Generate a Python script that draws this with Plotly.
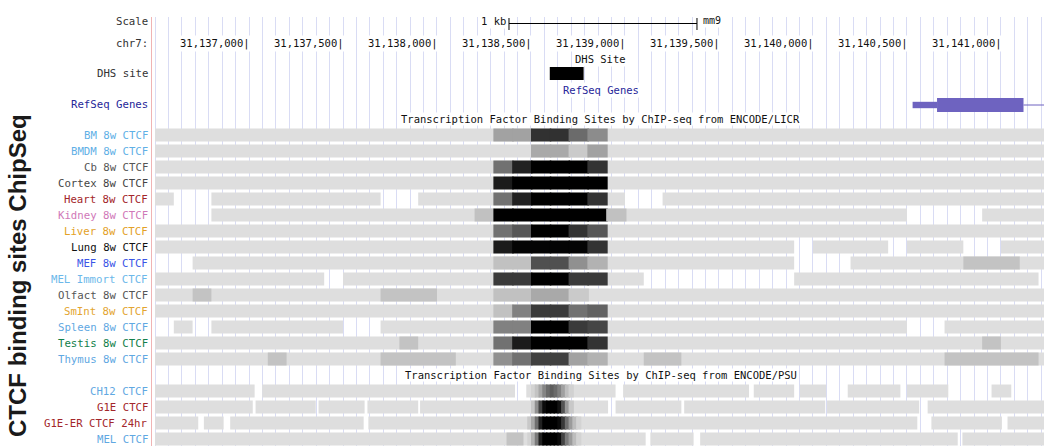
import plotly.graph_objects as go

# ---------------- data ----------------
VIEW_START, VIEW_END = 31136484, 31141229
SEG_END = 31141229

tick_pos = [31137000, 31137500, 31138000, 31138500, 31139000,
            31139500, 31140000, 31140500, 31141000]
tick_labels = ["31,137,000|", "31,137,500|", "31,138,000|", "31,138,500|",
               "31,139,000|", "31,139,500|", "31,140,000|", "31,140,500|",
               "31,141,000|"]

scale_bar = [31138383, 31139383]          # 1 kb
dhs_site = [31138600, 31138780]
gene_utr = [31140530, 31140660]
gene_cds = [31140660, 31141120]

licr_tracks = ["BM 8w CTCF", "BMDM 8w CTCF", "Cb 8w CTCF", "Cortex 8w CTCF",
               "Heart 8w CTCF", "Kidney 8w CTCF", "Liver 8w CTCF", "Lung 8w CTCF",
               "MEF 8w CTCF", "MEL Immort CTCF", "Olfact 8w CTCF", "SmInt 8w CTCF",
               "Spleen 8w CTCF", "Testis 8w CTCF", "Thymus 8w CTCF"]
licr_colors = ["#5fb0e6", "#5fb0e6", "#555555", "#444444", "#a3262a", "#d078b8",
               "#e3a126", "#111111", "#3a55e6", "#6cb8ea", "#555555", "#e3a530",
               "#5fa8e2", "#12804a", "#5fa8e2"]

licr_bg = [
    [[31136500, SEG_END]],
    [[31136500, SEG_END]],
    [[31136500, SEG_END]],
    [[31136500, SEG_END]],
    [[31136500, 31136600], [31136800, 31137700], [31137900, 31139000], [31139200, SEG_END]],
    [[31136800, 31140500], [31140900, SEG_END]],
    [[31136500, SEG_END]],
    [[31136500, 31139900], [31140000, 31140400], [31140500, 31140800], [31141000, SEG_END]],
    [[31136700, 31139900], [31140200, SEG_END]],
    [[31136500, 31137400], [31137500, 31139100], [31139900, 31141200]],
    [[31136500, SEG_END]],
    [[31136500, SEG_END]],
    [[31136600, 31136700], [31136800, 31137500], [31137700, 31140500], [31140700, SEG_END]],
    [[31136500, SEG_END]],
    [[31136500, SEG_END]],
]
licr_dark = [
    [], [], [], [], [], [], [], [],
    [[31140800, 31141100]],
    [],
    [[31136700, 31136800], [31137700, 31138000]],
    [],
    [],
    [[31137800, 31137900], [31140900, 31141000]],
    [[31137100, 31137200], [31137700, 31138100], [31139100, 31139300], [31140700, 31141200]],
]

licr_bins = [31138200, 31138300, 31138400, 31138500, 31138600, 31138700, 31138800, 31138900]
licr_signal = [
    [None, 27, 27, 78, 78, 52, 37, None],
    [None, None, None, 24, 24, 9, 27, None],
    [None, 49, 85, 100, 100, 100, 77, None],
    [None, 88, 100, 100, 100, 100, 100, None],
    [None, 49, 85, 100, 100, 100, 77, None],
    [13, 100, 100, 100, 100, 100, 100, 13],
    [None, 49, 61, 100, 100, 77, 61, None],
    [None, 88, 98, 98, 98, 98, 77, None],
    [None, 13, 13, 64, 64, 35, 20, None],
    [None, 74, 74, 100, 100, 74, 74, None],
    [None, 13, 13, 24, 24, 9, None, None],
    [None, 13, 42, 74, 74, 49, 56, None],
    [None, 42, 42, 100, 100, 74, 69, None],
    [None, 49, 88, 100, 100, 100, 77, None],
    [None, 35, 49, 71, 71, 27, 20, None],
]

psu_tracks = ["CH12 CTCF", "G1E CTCF", "G1E-ER CTCF 24hr", "MEL CTCF"]
psu_colors = ["#5fa8e2", "#a3262a", "#a3262a", "#5fa8e2"]
psu_bg = [
    [[31136500, 31137030], [31137070, 31138415], [31138475, 31138950], [31138990, 31139660],
     [31139685, 31139900], [31139930, 31140070], [31140185, 31140465], [31140500, 31140720],
     [31140950, 31141055]],
    [[31136500, 31137020], [31137035, 31137355], [31137370, 31137615], [31137630, 31137900],
     [31137910, 31138910], [31138950, 31139300], [31139315, 31140065], [31140075, 31140565],
     [31140610, SEG_END]],
    [[31136500, 31136730], [31136760, 31136865], [31136900, 31137610], [31137635, 31140555],
     [31140630, 31141005], [31141035, SEG_END]],
    [[31136500, 31139110], [31139135, 31139365], [31139400, 31140770], [31140795, SEG_END]],
]
psu_dark = [[], [], [], [[31138370, 31138460]]]
psu_bins = [31138480, 31138500, 31138520, 31138540, 31138560, 31138580, 31138600,
            31138620, 31138640, 31138660, 31138680, 31138700, 31138720, 31138740]
psu_signal = [
    [0, 5, 12, 25, 40, 52, 58, 52, 42, 28, 14, 6, 0, 0],
    [0, 10, 35, 70, 95, 100, 100, 100, 92, 62, 30, 10, 0, 0],
    [10, 25, 50, 85, 100, 100, 100, 100, 95, 75, 50, 30, 15, 5],
    [5, 20, 45, 85, 100, 100, 100, 100, 95, 70, 45, 30, 15, 5],
]

# ---------------- layout helpers ----------------
W, H = 1044, 446
PLOT_LEFT_PX = 152
TOP_PX = 17
ROW_PX = 16.0
ROW0_PX = 119            # pixel centre of row index 0


def r_of(px):
    return (px - ROW0_PX) / ROW_PX


Y_TOP = r_of(TOP_PX)
Y_BOT = r_of(H)
BAR_H = 0.81
DARK_SIGNAL = 12
GENE_COLOR = "#6e63c0"
MONO = "DejaVu Sans Mono"
OVERLAP = 8              # bp overlap between adjacent bins to hide anti-alias seams

licr_rows = [i + 1 for i in range(len(licr_tracks))]
psu_rows = [17 + j for j in range(len(psu_tracks))]
LICR_TITLE_ROW, PSU_TITLE_ROW = 0, 16

ys, bases, lens, sigs = [], [], [], []


def add(row, s, e, sig):
    ys.append(row)
    bases.append(s)
    lens.append(e - s)
    sigs.append(sig)


# background + dark patches
for row, bg, dk in zip(licr_rows + psu_rows, licr_bg + psu_bg, licr_dark + psu_dark):
    for s, e in bg:
        add(row, s, e, 0)
    for s, e in dk:
        add(row, s, e, DARK_SIGNAL)

ys2, bases2, lens2, sigs2 = [], [], [], []
for row, vals in zip(licr_rows, licr_signal):
    for b, v in zip(licr_bins, vals):
        if v is not None:
            ys2.append(row); bases2.append(b); lens2.append(100 + OVERLAP); sigs2.append(v)
for row, vals in zip(psu_rows, psu_signal):
    for b, v in zip(psu_bins, vals):
        if v:
            ys2.append(row); bases2.append(b); lens2.append(20 + OVERLAP); sigs2.append(v)

grey_scale = [[0, "rgb(222,222,222)"], [1, "rgb(0,0,0)"]]

fig = go.Figure()
fig.add_trace(go.Bar(orientation="h", y=ys, x=lens, base=bases, width=BAR_H,
                     marker=dict(color=sigs, colorscale=grey_scale, cmin=0, cmax=100,
                                 line=dict(width=0)),
                     hoverinfo="skip", showlegend=False))
fig.add_trace(go.Bar(orientation="h", y=ys2, x=lens2, base=bases2, width=BAR_H,
                     marker=dict(color=sigs2, colorscale=grey_scale, cmin=0, cmax=100,
                                 line=dict(width=0)),
                     hoverinfo="skip", showlegend=False))

# DHS site
R_DHS = r_of(73.5)
fig.add_trace(go.Bar(orientation="h", y=[R_DHS], x=[dhs_site[1] - dhs_site[0]],
                     base=[dhs_site[0]], width=0.8, marker=dict(color="black", line=dict(width=0)),
                     hoverinfo="skip", showlegend=False))

# RefSeq gene
R_GENE = r_of(105)
fig.add_trace(go.Scatter(x=[gene_cds[1], VIEW_END], y=[R_GENE, R_GENE], mode="lines",
                         line=dict(color=GENE_COLOR, width=1), hoverinfo="skip", showlegend=False))
fig.add_trace(go.Bar(orientation="h", y=[R_GENE], x=[gene_utr[1] - gene_utr[0]], base=[gene_utr[0]],
                     width=0.4, marker=dict(color=GENE_COLOR, line=dict(width=0)),
                     hoverinfo="skip", showlegend=False))
fig.add_trace(go.Bar(orientation="h", y=[R_GENE], x=[gene_cds[1] - gene_cds[0]], base=[gene_cds[0]],
                     width=0.87, marker=dict(color=GENE_COLOR, line=dict(width=0)),
                     hoverinfo="skip", showlegend=False))

# scale bar
sb0, sb1 = scale_bar
ya, yb, ym = r_of(18), r_of(30), r_of(23.5)
fig.add_trace(go.Scatter(x=[sb0, sb0, None, sb0, sb1, None, sb1, sb1],
                         y=[ya, yb, None, ym, ym, None, ya, yb], mode="lines",
                         line=dict(color="black", width=1), hoverinfo="skip", showlegend=False))

annotations = []
LABEL_X = 150 / W
MID_X = 31138870


def label(text, row, color, size=10.7):
    annotations.append(dict(text=text, xref="paper", x=LABEL_X, yref="y", y=row,
                            xanchor="right", yanchor="middle", showarrow=False,
                            font=dict(family=MONO, size=size, color=color)))


label("Scale", r_of(21), "#333333")
label("chr7:", r_of(43), "#333333")
label("DHS site", r_of(73), "#333333")
label("RefSeq Genes", r_of(104), "#262699")
for t, c, r in zip(licr_tracks, licr_colors, licr_rows):
    label(t, r, c)
for t, c, r in zip(psu_tracks, psu_colors, psu_rows):
    label(t, r, c)

for p, t in zip(tick_pos, tick_labels):
    annotations.append(dict(text=t, x=p, y=r_of(43), xref="x", yref="y", xanchor="right",
                            yanchor="middle", xshift=3, showarrow=False, bgcolor="white",
                            font=dict(family=MONO, size=10.5, color="#111111")))

annotations.append(dict(text="1 kb", x=sb0, y=r_of(21), xref="x", yref="y", xanchor="right",
                        xshift=-1, showarrow=False, bgcolor="white",
                        font=dict(family=MONO, size=10.5, color="#111111")))
annotations.append(dict(text="mm9", x=sb1, y=r_of(20), xref="x", yref="y", xanchor="left",
                        xshift=4, showarrow=False, bgcolor="white",
                        font=dict(family=MONO, size=10, color="#111111")))
annotations.append(dict(text="DHS Site", x=MID_X, y=r_of(59), xref="x", yref="y",
                        showarrow=False, bgcolor="white",
                        font=dict(family=MONO, size=10.5, color="#111111")))
annotations.append(dict(text="RefSeq Genes", x=MID_X, y=r_of(90), xref="x", yref="y",
                        showarrow=False, bgcolor="white",
                        font=dict(family=MONO, size=10.5, color="#262699")))
annotations.append(dict(text="Transcription Factor Binding Sites by ChIP-seq from ENCODE/LICR",
                        x=MID_X, y=LICR_TITLE_ROW, xref="x", yref="y", showarrow=False,
                        bgcolor="white", borderpad=0,
                        font=dict(family=MONO, size=10.5, color="#111111")))
annotations.append(dict(text="Transcription Factor Binding Sites by ChIP-seq from ENCODE/PSU",
                        x=MID_X, y=PSU_TITLE_ROW, xref="x", yref="y", showarrow=False,
                        bgcolor="white", borderpad=0,
                        font=dict(family=MONO, size=10.5, color="#111111")))
annotations.append(dict(text="<b>CTCF binding sites ChipSeq</b>", xref="paper", yref="paper",
                        x=17 / W, y=1 - 276 / H, textangle=-90, showarrow=False,
                        xanchor="center", yanchor="middle",
                        font=dict(family="Liberation Sans, Arial", size=24, color="#1a1a1a")))

fig.update_layout(
    width=W, height=H, margin=dict(l=0, r=0, t=0, b=0),
    paper_bgcolor="white", plot_bgcolor="white",
    barmode="overlay", showlegend=False,
    xaxis=dict(domain=[PLOT_LEFT_PX / W, 1], range=[VIEW_START, VIEW_END],
               showgrid=True, gridcolor="#d9dcf4", gridwidth=1,
               tick0=31137000, dtick=500 / 7, showticklabels=False, ticks="",
               zeroline=False, showline=False, fixedrange=True),
    yaxis=dict(domain=[0, 1 - TOP_PX / H], range=[Y_BOT, Y_TOP],
               showgrid=False, zeroline=False, showticklabels=False, ticks="",
               showline=True, linecolor="#f0b4b4", linewidth=1, fixedrange=True),
    annotations=annotations,
)

fig.write_html("out.html", config={"displayModeBar": False},
               post_script="document.body.style.margin='0';")
